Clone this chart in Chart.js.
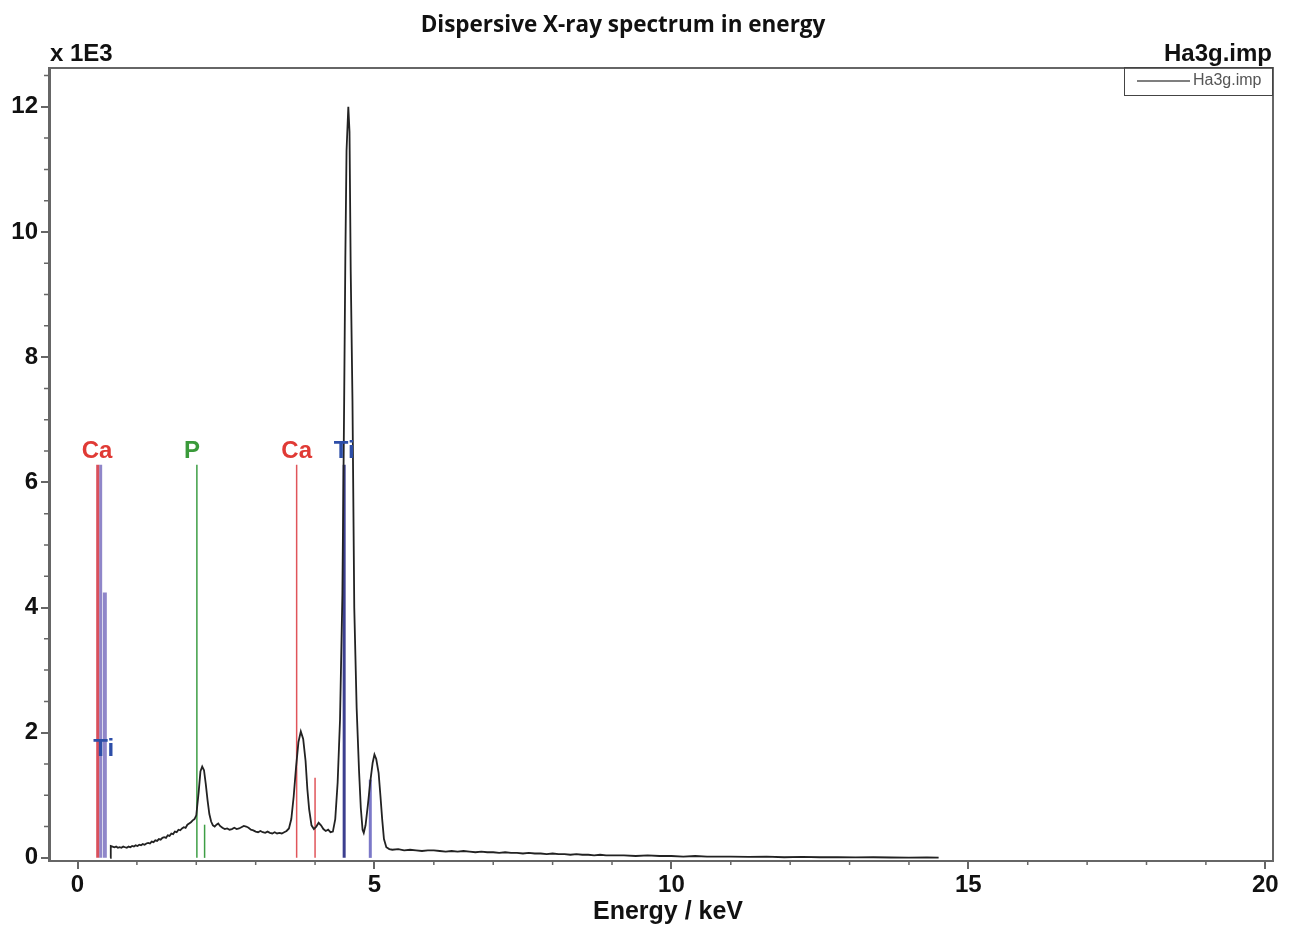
<!DOCTYPE html>
<html>
<head>
<meta charset="utf-8">
<title>Dispersive X-ray spectrum in energy</title>
<script src="https://cdn.jsdelivr.net/npm/chart.js@4.4.1/dist/chart.umd.min.js"></script>
<style>
  html, body { margin: 0; padding: 0; background: #fff; }
  #wrap { width: 1290px; height: 928px; }
</style>
</head>
<body>
<div id="wrap"><canvas id="edsChart" width="1290" height="928"></canvas></div>
<script>
// EDS spectrum, counts in units of 1E3
const energyKeV = [
  0.55, 0.56, 0.59, 0.62, 0.65, 0.68, 0.71, 0.74, 0.77, 0.80,
  0.83, 0.86, 0.89, 0.92, 0.95, 0.98, 1.01, 1.04, 1.07, 1.10,
  1.13, 1.16, 1.19, 1.22, 1.25, 1.28, 1.31, 1.34, 1.37, 1.40,
  1.43, 1.46, 1.49, 1.52, 1.55, 1.58, 1.61, 1.64, 1.67, 1.70,
  1.73, 1.76, 1.79, 1.82, 1.85, 1.88, 1.91, 1.94, 1.97, 2.00,
  2.04, 2.07, 2.10, 2.13, 2.16, 2.19, 2.22, 2.25, 2.28, 2.31,
  2.34, 2.37, 2.40, 2.44, 2.48, 2.52, 2.56, 2.60, 2.64, 2.68,
  2.72, 2.76, 2.80, 2.84, 2.88, 2.92, 2.96, 3.00, 3.04, 3.08,
  3.12, 3.16, 3.20, 3.24, 3.28, 3.32, 3.36, 3.40, 3.44, 3.48,
  3.52, 3.56, 3.60, 3.64, 3.68, 3.72, 3.76, 3.80, 3.84, 3.87,
  3.90, 3.94, 3.98, 4.02, 4.06, 4.10, 4.14, 4.18, 4.22, 4.26,
  4.30, 4.34, 4.38, 4.42, 4.46, 4.49, 4.51, 4.53, 4.56, 4.58,
  4.60, 4.63, 4.66, 4.70, 4.74, 4.77, 4.80, 4.82, 4.85, 4.89,
  4.93, 4.97, 5.00, 5.03, 5.07, 5.10, 5.13, 5.16, 5.20, 5.25,
  5.30, 5.40, 5.50, 5.60, 5.70, 5.80, 5.90, 6.00, 6.10, 6.20,
  6.30, 6.40, 6.50, 6.60, 6.70, 6.80, 6.90, 7.00, 7.10, 7.20,
  7.30, 7.40, 7.50, 7.60, 7.70, 7.80, 7.90, 8.00, 8.10, 8.20,
  8.30, 8.40, 8.50, 8.60, 8.70, 8.80, 8.90, 9.00, 9.20, 9.40,
  9.60, 9.80, 10.00, 10.20, 10.40, 10.60, 10.80, 11.00, 11.30, 11.60,
  11.90, 12.20, 12.50, 12.80, 13.10, 13.40, 13.70, 14.00, 14.30, 14.50
];
const countsK = [
  0.00, 0.19, 0.18, 0.17, 0.18, 0.16, 0.17, 0.16, 0.18, 0.17,
  0.16, 0.18, 0.17, 0.19, 0.18, 0.20, 0.19, 0.21, 0.20, 0.22,
  0.21, 0.23, 0.24, 0.23, 0.26, 0.25, 0.28, 0.27, 0.30, 0.29,
  0.32, 0.33, 0.32, 0.36, 0.35, 0.39, 0.38, 0.42, 0.41, 0.45,
  0.44, 0.47, 0.49, 0.48, 0.53, 0.55, 0.57, 0.60, 0.62, 0.68,
  1.05, 1.38, 1.46, 1.40, 1.18, 0.92, 0.70, 0.58, 0.52, 0.50,
  0.53, 0.55, 0.51, 0.48, 0.46, 0.47, 0.45, 0.46, 0.48, 0.46,
  0.47, 0.49, 0.51, 0.50, 0.48, 0.45, 0.44, 0.42, 0.41, 0.43,
  0.41, 0.40, 0.42, 0.40, 0.39, 0.41, 0.39, 0.40, 0.39, 0.41,
  0.43, 0.47, 0.62, 0.98, 1.45, 1.85, 2.02, 1.90, 1.55, 1.10,
  0.78, 0.52, 0.46, 0.50, 0.56, 0.52, 0.46, 0.43, 0.45, 0.41,
  0.42, 0.62, 1.20, 2.20, 4.20, 7.30, 9.60, 11.30, 12.00, 11.60,
  9.40, 7.30, 4.00, 2.40, 1.40, 0.80, 0.45, 0.40, 0.52, 0.85,
  1.22, 1.52, 1.65, 1.58, 1.36, 1.00, 0.62, 0.30, 0.17, 0.14,
  0.13, 0.14, 0.12, 0.13, 0.12, 0.11, 0.12, 0.12, 0.11, 0.10,
  0.11, 0.10, 0.11, 0.10, 0.09, 0.10, 0.09, 0.09, 0.08, 0.09,
  0.08, 0.08, 0.07, 0.08, 0.07, 0.07, 0.06, 0.07, 0.06, 0.06,
  0.05, 0.06, 0.05, 0.05, 0.04, 0.05, 0.04, 0.04, 0.04, 0.03,
  0.04, 0.03, 0.03, 0.02, 0.03, 0.02, 0.02, 0.02, 0.015, 0.02,
  0.01, 0.015, 0.01, 0.01, 0.008, 0.01, 0.006, 0.005, 0.006, 0.004
];

// characteristic X-ray marker lines (Ca L, Ti Ll, Ti La, P Ka, P Kb, Ca Ka, Ca Kb, Ti Ka, Ti Kb)
const lineEnergy = [0.34, 0.39, 0.46, 2.01, 2.14, 3.69, 4.00, 4.49, 4.93];
const lineHeight = [6.28, 6.28, 4.24, 6.28, 0.53, 6.28, 1.28, 6.28, 1.25];
const lineColor = ['#d9505c', '#8f86c9', '#8f86c9', '#3d9e45', '#3d9e45', '#e0555a', '#e0555a', '#3c3f8f', '#7b78c8'];
const lineWidth = [3, 3, 4, 1.5, 1.5, 1.5, 1.5, 3, 3];

// element labels
const labelText = ['Ca', 'P', 'Ca', 'Ti', 'Ti'];
const labelEnergy = [0.33, 1.93, 3.69, 4.49, 0.44];
const labelCount = [6.39, 6.39, 6.39, 6.39, 1.62];
const labelColor = ['#e03a35', '#3a9a3a', '#e03a35', '#2d4ea8', '#2d4ea8'];

// axes
const xTickValues = [0, 5, 10, 15, 20];
const yTickValues = [0, 2, 4, 6, 8, 10, 12];
const xMinorTicks = [1, 2, 3, 4, 6, 7, 8, 9, 11, 12, 13, 14, 16, 17, 18, 19];
const yMinorTicks = [0.5, 1, 1.5, 2.5, 3, 3.5, 4.5, 5, 5.5, 6.5, 7, 7.5, 8.5, 9, 9.5, 10.5, 11, 11.5, 12.5];

const FONT = '"Liberation Sans", Arial, sans-serif';

const datasets = [{
    label: 'Ha3g.imp',
    data: energyKeV.map((e, i) => ({ x: e, y: countsK[i] })),
    showLine: true,
    borderColor: '#222',
    borderWidth: 1.8,
    pointRadius: 0,
    tension: 0
}];
lineEnergy.forEach((e, i) => {
    datasets.push({
        label: 'line' + i,
        data: [{ x: e, y: 0 }, { x: e, y: lineHeight[i] }],
        showLine: true,
        borderColor: lineColor[i],
        borderWidth: lineWidth[i],
        pointRadius: 0
    });
});

const decorPlugin = {
    id: 'decor',
    afterDraw(chart) {
        const { ctx, chartArea: a, scales: { x, y } } = chart;
        ctx.save();

        // frame top and right
        ctx.strokeStyle = '#666';
        ctx.lineWidth = 2;
        ctx.beginPath();
        ctx.moveTo(a.left, a.top);
        ctx.lineTo(a.right, a.top);
        ctx.lineTo(a.right, a.bottom);
        ctx.stroke();

        // minor ticks
        ctx.lineWidth = 1.5;
        ctx.beginPath();
        xMinorTicks.forEach(v => {
            const px = x.getPixelForValue(v);
            ctx.moveTo(px, a.bottom);
            ctx.lineTo(px, a.bottom + 4);
        });
        yMinorTicks.forEach(v => {
            const py = y.getPixelForValue(v);
            ctx.moveTo(a.left, py);
            ctx.lineTo(a.left - 5, py);
        });
        ctx.stroke();

        // element labels
        ctx.font = 'bold 24px ' + FONT;
        ctx.textAlign = 'center';
        ctx.textBaseline = 'alphabetic';
        labelText.forEach((t, i) => {
            ctx.fillStyle = labelColor[i];
            ctx.fillText(t, x.getPixelForValue(labelEnergy[i]), y.getPixelForValue(labelCount[i]));
        });

        // headers
        ctx.fillStyle = '#111';
        ctx.font = 'bold 22.5px "Open Sans", sans-serif';
        ctx.fillText('Dispersive X-ray spectrum in energy', 623, 32);

        ctx.font = 'bold 24px ' + FONT;
        ctx.textAlign = 'left';
        ctx.fillText('x 1E3', 50, 61);
        ctx.textAlign = 'right';
        ctx.fillText('Ha3g.imp', 1272, 61);

        ctx.textAlign = 'center';
        ctx.font = 'bold 25px ' + FONT;
        ctx.fillText('Energy / keV', 668, 919);

        // legend box
        ctx.strokeStyle = '#444';
        ctx.lineWidth = 1;
        ctx.strokeRect(1124.5, 67.5, 148, 28);
        ctx.strokeStyle = '#555';
        ctx.lineWidth = 1.5;
        ctx.beginPath();
        ctx.moveTo(1137, 81);
        ctx.lineTo(1190, 81);
        ctx.stroke();
        ctx.fillStyle = '#555';
        ctx.font = '16px ' + FONT;
        ctx.textAlign = 'left';
        ctx.textBaseline = 'middle';
        ctx.fillText('Ha3g.imp', 1193, 81);

        ctx.restore();
    }
};

new Chart(document.getElementById('edsChart'), {
    type: 'scatter',
    data: { datasets },
    options: {
        responsive: false,
        animation: false,
        layout: { padding: { top: 68, right: 17, left: 0, bottom: 0 } },
        plugins: {
            legend: { display: false },
            tooltip: { enabled: false },
            title: { display: false }
        },
        scales: {
            x: {
                type: 'linear',
                min: -0.48,
                max: 20.13,
                afterBuildTicks: s => { s.ticks = xTickValues.map(v => ({ value: v })); },
                afterFit: s => { s.height = 67; },
                grid: { drawOnChartArea: false, drawTicks: true, tickLength: 8, color: '#666', lineWidth: 2 },
                border: { display: true, color: '#666', width: 2 },
                ticks: { color: '#111', font: { family: FONT, size: 24, weight: 'bold' }, padding: 2, maxRotation: 0 }
            },
            y: {
                type: 'linear',
                min: -0.05,
                max: 12.62,
                afterBuildTicks: s => { s.ticks = yTickValues.map(v => ({ value: v })); },
                afterFit: s => { s.width = 49; },
                grid: { drawOnChartArea: false, drawTicks: true, tickLength: 8, color: '#666', lineWidth: 2 },
                border: { display: true, color: '#666', width: 3 },
                ticks: { color: '#111', font: { family: FONT, size: 24, weight: 'bold' }, padding: 3 }
            }
        }
    },
    plugins: [decorPlugin]
});
</script>
</body>
</html>
